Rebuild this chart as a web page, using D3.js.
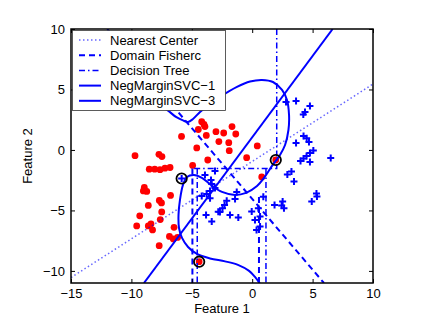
<!DOCTYPE html>
<html>
<head>
<meta charset="utf-8">
<script src="https://cdn.jsdelivr.net/npm/d3@7"></script>
<style>
  body { margin: 0; background: #fff; }
  text { font-family: "Liberation Sans", Arial, sans-serif; }
</style>
</head>
<body>
<script>
const xTicks = [-15, -10, -5, 0, 5, 10];
const yTicks = [-10, -5, 0, 5, 10];
const xTickLabels = ["\u221215", "\u221210", "\u22125", "0", "5", "10"];
const yTickLabels = ["\u221210", "\u22125", "0", "5", "10"];

const legendLabels = ["Nearest Center", "Domain Fisherc", "Decision Tree", "NegMarginSVC\u22121", "NegMarginSVC\u22123"];

// class 1 (red dots)
const redPoints = [
  [-4.18, 2.34], [-3.99, 2.11], [-3.91, 1.93], [-4.46, 1.69], [-3.80, 1.20], [-3.00, 1.51],
  [-2.36, 1.40], [-1.67, 1.93], [-1.36, 1.32], [-2.76, 0.69], [-1.94, 0.60], [-1.90, -0.06],
  [0.42, 0.33], [-0.46, -0.64], [-3.68, -0.83], [-4.59, 0.17], [-5.85, 1.12], [-4.93, -1.28],
  [0.79, -2.23], [1.95, -0.83], [-9.70, -0.47], [-7.72, -0.36], [-7.47, -0.55], [-8.52, -1.59],
  [-8.07, -1.59], [-7.63, -1.63], [-7.22, -1.51], [-6.80, -1.45], [-8.93, -3.10], [-9.01, -3.39],
  [-8.73, -3.43], [-6.76, -3.76], [-7.69, -4.17], [-7.51, -4.38], [-8.60, -4.59], [-7.49, -5.12],
  [-9.31, -5.45], [-7.61, -5.76], [-9.56, -6.28], [-8.60, -6.28], [-8.38, -6.12], [-8.25, -6.61],
  [-6.47, -6.40], [-6.85, -7.15], [-6.53, -7.36], [-6.18, -7.23], [-7.70, -7.91], [-4.39, -9.24]
];

// class 2 (blue plus)
const bluePoints = [
  [2.80, 3.97], [3.63, 4.05], [4.78, 3.64], [4.37, 3.14], [4.23, 2.93], [4.25, 1.16],
  [4.51, 0.97], [3.63, 0.58], [4.70, 0.66], [5.06, -0.04], [4.78, -0.25], [4.50, -0.50],
  [4.25, -0.70], [4.00, -0.91], [4.78, -0.99], [6.50, -0.66], [3.25, -1.78], [2.91, -2.02],
  [3.46, -2.60], [2.52, -4.27], [2.44, -4.60], [2.63, -4.82], [1.85, -4.55], [4.93, -4.26],
  [5.36, -3.84], [5.32, -3.60], [-5.84, -2.36], [-3.91, -2.07], [-3.41, -2.48], [-3.08, -1.74],
  [-4.18, -3.80], [-3.77, -3.64], [-3.49, -3.39], [-3.49, -3.99], [-3.08, -3.14], [-3.82, -5.37],
  [-3.35, -5.91], [-2.81, -5.10], [-2.11, -4.21], [-2.29, -4.55], [-2.46, -4.83], [-2.67, -5.12],
  [-1.84, -5.37], [-1.15, -5.58], [-1.42, -4.05], [-1.28, -3.47], [-0.04, -5.08], [0.51, -4.82],
  [0.23, -5.79], [0.65, -6.32], [0.36, -6.61], [0.92, -3.86], [0.65, -5.50], [-3.35, -2.81]
];

// circled objects
const supportVectors = [[-5.84, -2.36], [1.95, -0.83], [-4.39, -9.24]];

// classifier boundaries
const nearestCenter = [[-15, -10.55], [10, 5.45]];
const fisherc = [[-12.0, 10], [5.94, -11]];
const svc1 = [[-8.96, -11], [6.66, 10]];
const treeDashDot = [
  [[2.03, 10], [2.03, -1.53], [-4.95, -1.53]],
  [[-4.55, -1.53], [-4.55, -11]],
  [[1.14, -1.53], [1.14, -11]]
];
const treeDashed = [
  [[-4.95, -1.53], [-4.95, -11]],
  [[0.56, -3.9], [0.56, -11]]
];
const svc3 = [
  [-8.46, 4.13], [-7.05, 3.31], [-6.31, 2.73], [-5.73, 2.44], [-5.31, 2.31], [-4.90, 2.56],
  [-4.32, 3.14], [-3.49, 3.80], [-2.67, 4.38], [-1.26, 5.21], [-0.18, 5.66], [0.81, 5.79],
  [1.72, 5.62], [2.47, 4.96], [2.88, 4.13], [3.05, 2.89], [3.00, 1.65], [2.72, 0.41],
  [2.30, -0.41], [1.64, -1.32], [0.98, -2.31], [0.40, -2.98], [-0.51, -3.55], [-1.42, -3.72],
  [-2.50, -3.47], [-3.41, -2.89], [-4.16, -2.31], [-4.82, -2.07], [-5.40, -2.23], [-5.73, -2.89],
  [-5.98, -4.13], [-6.10, -5.37], [-6.06, -6.45], [-5.81, -7.27], [-5.31, -8.02], [-4.57, -8.60],
  [-3.49, -8.97], [-2.25, -9.21], [-1.18, -9.50], [-0.26, -10.0], [0.23, -10.50], [0.65, -11.07]
];

const width = 435, height = 327;
const box = { left: 71, right: 373, top: 29, bottom: 283 };
const blue = "#0000ff";

const svg = d3.select("body").append("svg")
  .attr("width", width)
  .attr("height", height);

const x = d3.scaleLinear().domain([-15, 10]).range([box.left, box.right]);
const y = d3.scaleLinear().domain([-11, 10]).range([box.bottom, box.top]);

svg.append("clipPath").attr("id", "plot")
  .append("rect")
  .attr("x", box.left).attr("y", box.top)
  .attr("width", box.right - box.left).attr("height", box.bottom - box.top);

const line = d3.line().x(d => x(d[0])).y(d => y(d[1]));
const curve = d3.line().x(d => x(d[0])).y(d => y(d[1])).curve(d3.curveCatmullRom);

const plot = svg.append("g").attr("clip-path", "url(#plot)");

// points
plot.selectAll(".red").data(redPoints).join("circle")
  .attr("cx", d => x(d[0]))
  .attr("cy", d => y(d[1]))
  .attr("r", 3.4)
  .attr("fill", "#ff0000");

plot.selectAll(".blue").data(bluePoints).join("path")
  .attr("transform", d => `translate(${x(d[0])},${y(d[1])})`)
  .attr("d", "M-3.5,0H3.5M0,-3.5V3.5")
  .attr("stroke", blue)
  .attr("stroke-width", 2)
  .attr("fill", "none");

// boundaries
plot.append("path").datum(nearestCenter)
  .attr("d", line).attr("fill", "none")
  .attr("stroke", blue).attr("stroke-opacity", 0.6)
  .attr("stroke-width", 1.5).attr("stroke-dasharray", "1.5,2.5");

plot.append("path").datum(fisherc)
  .attr("d", line).attr("fill", "none")
  .attr("stroke", blue).attr("stroke-width", 2)
  .attr("stroke-dasharray", "6,4");

treeDashDot.forEach(seg => {
  plot.append("path").datum(seg)
    .attr("d", line).attr("fill", "none")
    .attr("stroke", blue).attr("stroke-width", 1.5)
    .attr("stroke-dasharray", "6,3,1.5,3");
});

treeDashed.forEach(seg => {
  plot.append("path").datum(seg)
    .attr("d", line).attr("fill", "none")
    .attr("stroke", blue).attr("stroke-width", 2)
    .attr("stroke-dasharray", "6,4");
});

plot.append("path").datum(svc1)
  .attr("d", line).attr("fill", "none")
  .attr("stroke", blue).attr("stroke-width", 2);

plot.append("path").datum(svc3)
  .attr("d", curve).attr("fill", "none")
  .attr("stroke", blue).attr("stroke-width", 2);

// circled support objects
plot.selectAll(".sv").data(supportVectors).join("circle")
  .attr("cx", d => x(d[0]))
  .attr("cy", d => y(d[1]))
  .attr("r", 5.2)
  .attr("fill", "none")
  .attr("stroke", "#000")
  .attr("stroke-width", 1.8);

// axes, ticks inward on all sides
const fmt = (labels, ticks) => d => labels[ticks.indexOf(d)];

svg.append("g")
  .attr("transform", `translate(0,${box.bottom})`)
  .call(d3.axisBottom(x).tickValues(xTicks).tickFormat(fmt(xTickLabels, xTicks)).tickSize(-4).tickPadding(6));
svg.append("g")
  .attr("transform", `translate(0,${box.top})`)
  .call(d3.axisTop(x).tickValues(xTicks).tickFormat("").tickSize(-4));
svg.append("g")
  .attr("transform", `translate(${box.left},0)`)
  .call(d3.axisLeft(y).tickValues(yTicks).tickFormat(fmt(yTickLabels, yTicks)).tickSize(-4).tickPadding(6));
svg.append("g")
  .attr("transform", `translate(${box.right},0)`)
  .call(d3.axisRight(y).tickValues(yTicks).tickFormat("").tickSize(-4));

svg.selectAll(".domain").remove();
svg.selectAll(".tick line").attr("stroke", "#000").attr("stroke-width", 1);
svg.selectAll(".tick text").attr("font-size", 13).attr("fill", "#000")
  .attr("font-family", "'Liberation Sans', Arial, sans-serif");

svg.append("rect")
  .attr("x", box.left).attr("y", box.top)
  .attr("width", box.right - box.left).attr("height", box.bottom - box.top)
  .attr("fill", "none").attr("stroke", "#000").attr("stroke-width", 1.5);

svg.append("text")
  .attr("x", (box.left + box.right) / 2).attr("y", 313)
  .attr("text-anchor", "middle").attr("font-size", 13)
  .text("Feature 1");

svg.append("text")
  .attr("transform", `translate(32,${(box.top + box.bottom) / 2}) rotate(-90)`)
  .attr("text-anchor", "middle").attr("font-size", 13)
  .text("Feature 2");

// legend
const legend = svg.append("g");
legend.append("rect")
  .attr("x", 72.5).attr("y", 30.5)
  .attr("width", 153).attr("height", 80)
  .attr("fill", "#fff").attr("stroke", "#333").attr("stroke-width", 0.8);

const legendStyles = [
  { dash: "1.5,2.5", w: 1.5, op: 0.6 },
  { dash: "6,4", w: 2, op: 1 },
  { dash: "6,3,1.5,3", w: 1.5, op: 1 },
  { dash: null, w: 2, op: 1 },
  { dash: null, w: 2, op: 1 }
];

legendLabels.forEach((label, i) => {
  const ly = 40 + i * 15.2;
  legend.append("line")
    .attr("x1", 79).attr("x2", 101)
    .attr("y1", ly).attr("y2", ly)
    .attr("stroke", blue)
    .attr("stroke-width", legendStyles[i].w)
    .attr("stroke-opacity", legendStyles[i].op)
    .attr("stroke-dasharray", legendStyles[i].dash);
  legend.append("text")
    .attr("x", 110).attr("y", ly)
    .attr("dy", "0.35em")
    .attr("font-size", 13)
    .text(label);
});
</script>
</body>
</html>
